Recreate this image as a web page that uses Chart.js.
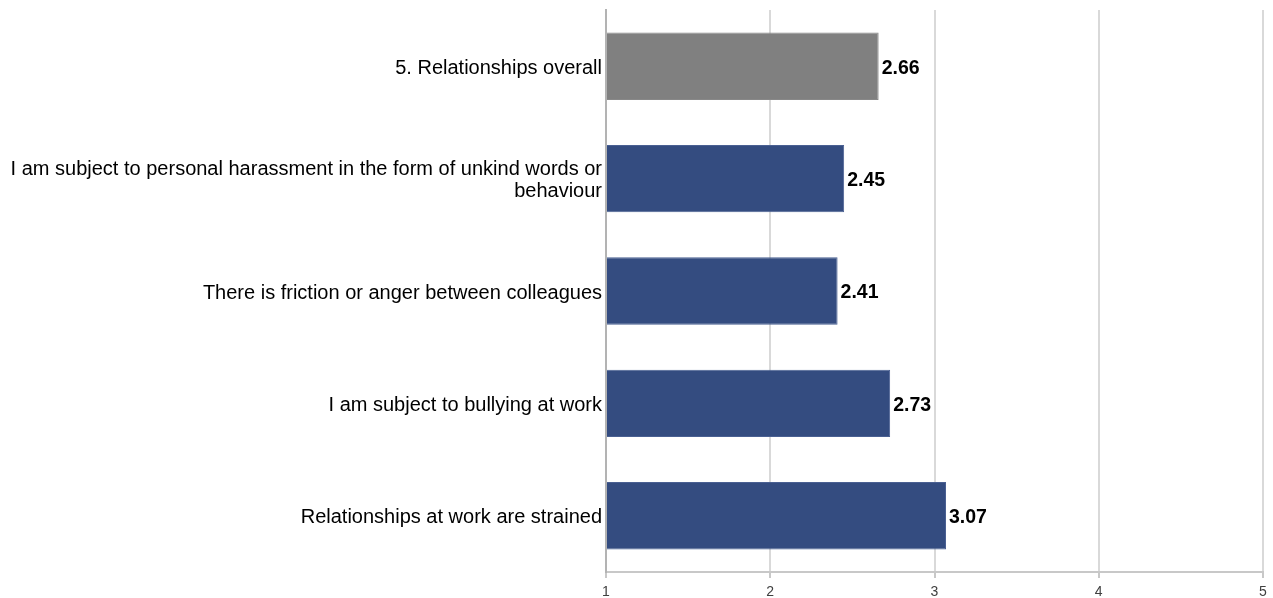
<!DOCTYPE html>
<html>
<head>
<meta charset="utf-8">
<title>Relationships</title>
<script src="https://cdn.jsdelivr.net/npm/chart.js@4/dist/chart.umd.min.js"></script>
<style>
    html, body { margin: 0; padding: 0; background: #fff; }
    #wrap { width: 1273px; height: 598px; }
</style>
</head>
<body>
<div id="wrap"><canvas id="relChart" width="1273" height="598"></canvas></div>
<script>
// Survey items, top to bottom
const categories = [
    '5. Relationships overall',
    ['I am subject to personal harassment in the form of unkind words or', 'behaviour'],
    'There is friction or anger between colleagues',
    'I am subject to bullying at work',
    'Relationships at work are strained'
];
const scores = [2.66, 2.45, 2.41, 2.73, 3.07];
const barColors = ['#808080', '#344c80', '#344c80', '#344c80', '#344c80'];
const scaleTicks = [1, 2, 3, 4, 5];

const fontFamily = "'Liberation Sans', Arial, sans-serif";

// Value printed just past the end of each bar
const valueLabels = {
    id: 'valueLabels',
    afterDatasetsDraw(chart) {
        const ctx = chart.ctx;
        const meta = chart.getDatasetMeta(0);
        ctx.save();
        ctx.font = `bold 19.5px ${fontFamily}`;
        ctx.fillStyle = '#000';
        ctx.textAlign = 'left';
        ctx.textBaseline = 'middle';
        meta.data.forEach((bar, i) => {
            ctx.fillText(scores[i].toFixed(2), bar.x + 3, bar.y + 2);
        });
        ctx.restore();
    }
};

const relCtx = document.getElementById('relChart').getContext('2d');

const relChart = new Chart(relCtx, {
    type: 'bar',
    data: {
        labels: categories,
        datasets: [{
            data: scores,
            base: 1,
            backgroundColor: barColors,
            borderColor: barColors.map(c => c === '#808080' ? '#888888' : '#4a6092'),
            borderWidth: 1,
            borderSkipped: 'start',
            barPercentage: 0.6,
            categoryPercentage: 1.0
        }]
    },
    options: {
        indexAxis: 'y',
        responsive: false,
        animation: false,
        layout: { padding: { top: 10, right: 10, left: 0, bottom: 0 } },
        plugins: {
            title: { display: false },
            legend: { display: false },
            tooltip: { enabled: false }
        },
        scales: {
            x: {
                min: scaleTicks[0],
                max: scaleTicks[scaleTicks.length - 1],
                afterBuildTicks: scale => {
                    scale.ticks = scaleTicks.map(v => ({ value: v }));
                },
                afterFit: scale => { scale.height = 26; },
                grid: {
                    color: '#d9d9d9',
                    lineWidth: 2,
                    drawTicks: true,
                    tickLength: 6,
                    tickColor: '#c8c8c8'
                },
                border: { display: true, color: '#c8c8c8', width: 2 },
                ticks: {
                    padding: 6,
                    color: '#404040',
                    font: { family: fontFamily, size: 14 }
                }
            },
            y: {
                grid: { display: false, drawTicks: false },
                border: { display: true, color: '#b3b3b3', width: 2 },
                afterFit: scale => {
                    // fixed label column; no extra room reserved above/below
                    scale.width = 606;
                    scale.paddingTop = 0;
                    scale.paddingBottom = 0;
                },
                ticks: {
                    padding: 4,
                    labelOffset: 2,
                    color: '#000',
                    font: { family: fontFamily, size: 20, lineHeight: 1.1 }
                }
            }
        }
    },
    plugins: [valueLabels]
});
</script>
</body>
</html>
